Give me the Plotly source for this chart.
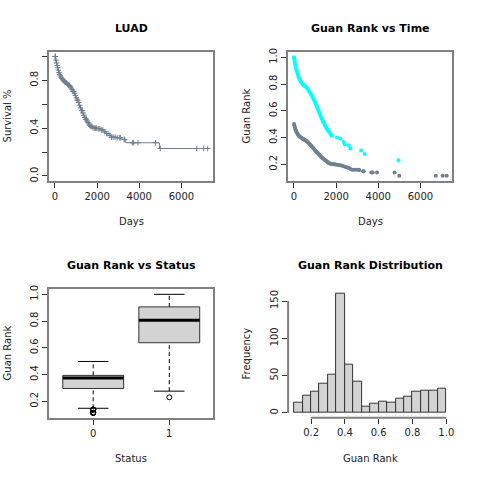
import numpy as np
import plotly.graph_objects as go

# ---------------- data ----------------
# Kaplan-Meier step curve (days, survival)
km_time = [0, 30, 60, 90, 120, 150, 180, 210, 240, 270, 300, 340, 380, 420, 460, 500,
           550, 600, 650, 700, 750, 800, 850, 900, 950, 1000, 1050, 1100, 1150, 1200,
           1250, 1300, 1350, 1400, 1450, 1500, 1550, 1600, 1650, 1700, 1780, 1850, 2040,
           2200, 2360, 2410, 2600, 2680, 2900, 3184, 3360, 4960, 7300]
km_surv = [1.0, 0.97, 0.945, 0.925, 0.905, 0.885, 0.865, 0.85, 0.838, 0.826, 0.815, 0.805,
           0.798, 0.79, 0.785, 0.78, 0.773, 0.766, 0.758, 0.748, 0.736, 0.722, 0.708, 0.692,
           0.674, 0.655, 0.635, 0.615, 0.592, 0.57, 0.548, 0.527, 0.508, 0.49, 0.475, 0.46,
           0.447, 0.435, 0.424, 0.415, 0.405, 0.40, 0.395, 0.385, 0.37, 0.355, 0.34, 0.325,
           0.32, 0.305, 0.278, 0.23, 0.23]

# censored patients (days, Guan rank)
cens_time = [0, 20, 45, 70, 100, 130, 160, 190, 220, 250, 290, 330, 370, 410, 450, 490,
             530, 570, 610, 650, 690, 730, 770, 810, 850, 890, 930, 970, 1010, 1050, 1090,
             1130, 1170, 1210, 1250, 1290, 1330, 1370, 1410, 1450, 1490, 1530, 1570, 1610,
             1650, 1700, 1750, 1800, 1860, 1920, 1980, 2050, 2130, 2200, 2280, 2360, 2450,
             2520, 2600, 2680, 2760, 2850, 2950, 3050, 3105, 3280, 3310, 3673, 3735, 3940,
             4775, 5000, 6729, 7060, 7249]
cens_rank = [0.502, 0.49, 0.475, 0.462, 0.45, 0.44, 0.43, 0.422, 0.415, 0.41, 0.405, 0.40,
             0.396, 0.392, 0.388, 0.385, 0.38, 0.376, 0.372, 0.366, 0.36, 0.354, 0.347, 0.34,
             0.333, 0.326, 0.318, 0.31, 0.303, 0.296, 0.29, 0.285, 0.278, 0.27, 0.263, 0.256,
             0.25, 0.245, 0.24, 0.235, 0.23, 0.225, 0.22, 0.215, 0.21, 0.206, 0.204, 0.202,
             0.2, 0.2, 0.199, 0.197, 0.195, 0.193, 0.19, 0.185, 0.18, 0.177, 0.172, 0.165,
             0.16, 0.16, 0.16, 0.16, 0.158, 0.148, 0.148, 0.138, 0.138, 0.138, 0.138, 0.114,
             0.114, 0.114, 0.114]

# patients with event (days, Guan rank)
ev_time = [0, 10, 25, 40, 60, 80, 100, 125, 150, 175, 200, 230, 260, 290, 320, 360, 400,
           440, 480, 520, 560, 600, 640, 680, 720, 760, 800, 840, 880, 920, 960, 1000, 1040,
           1080, 1120, 1160, 1200, 1240, 1280, 1320, 1360, 1400, 1440, 1480, 1520, 1560,
           1600, 1640, 1680, 1720, 1760, 1800, 2040, 2200, 2360, 2410, 2600, 2680, 3184,
           3360, 4960]
ev_rank = [1.0, 0.99, 0.975, 0.96, 0.945, 0.93, 0.915, 0.9, 0.89, 0.875, 0.862, 0.85, 0.84,
           0.83, 0.82, 0.81, 0.802, 0.795, 0.79, 0.786, 0.78, 0.772, 0.765, 0.755, 0.745,
           0.735, 0.725, 0.715, 0.703, 0.69, 0.677, 0.664, 0.65, 0.635, 0.62, 0.603, 0.587,
           0.572, 0.556, 0.54, 0.527, 0.515, 0.502, 0.49, 0.478, 0.467, 0.458, 0.45, 0.44,
           0.43, 0.421, 0.414, 0.40, 0.392, 0.367, 0.35, 0.342, 0.318, 0.303, 0.277, 0.23]

# boxplot statistics by status
status_labels = ["0", "1"]
box_lower = [0.148, 0.276]
box_q1 = [0.296, 0.638]
box_median = [0.375, 0.806]
box_q3 = [0.394, 0.906]
box_upper = [0.498, 1.0]
outliers_status0 = [0.138, 0.138, 0.138, 0.138, 0.114, 0.114, 0.114, 0.114]
outliers_status1 = [0.23]

# histogram of Guan rank
hist_edges = [0.10, 0.15, 0.20, 0.25, 0.30, 0.35, 0.40, 0.45, 0.50, 0.55, 0.60, 0.65,
              0.70, 0.75, 0.80, 0.85, 0.90, 0.95, 1.00]
hist_counts = [14, 23, 29, 39, 51, 160, 65, 42, 8, 12, 15, 14, 19, 22, 28, 30, 30, 33]

days_ticks = [0, 2000, 4000, 6000]
surv_ticks = [0.0, 0.2, 0.4, 0.6, 0.8, 1.0]
surv_ticktext = ["0.0", "", "0.4", "", "0.8", ""]
rank_ticks = [0.2, 0.4, 0.6, 0.8, 1.0]
freq_ticks = [0, 50, 100, 150]

# ---------------- styling ----------------
SLATE = "#708090"
CYAN = "#00FFFF"
FONT = "DejaVu Sans"
FRAME = "#808080"

fig = go.Figure()

# Panel 1: KM curve
fig.add_trace(go.Scatter(x=km_time, y=km_surv, mode="lines", line=dict(color=SLATE, width=1, shape="hv"),
                         xaxis="x", yaxis="y", showlegend=False))
kt = np.array(km_time)
ks = np.array(km_surv)
idx = np.searchsorted(kt, np.array(cens_time), side="right") - 1
fig.add_trace(go.Scatter(x=cens_time, y=ks[idx], mode="markers",
                         marker=dict(symbol="cross-thin", size=4, line=dict(width=1, color=SLATE), color=SLATE),
                         xaxis="x", yaxis="y", showlegend=False))

# Panel 2: Guan rank vs time
fig.add_trace(go.Scatter(x=ev_time, y=ev_rank, mode="markers", marker=dict(color=CYAN, size=4),
                         xaxis="x2", yaxis="y2", showlegend=False))
fig.add_trace(go.Scatter(x=cens_time, y=cens_rank, mode="markers", marker=dict(color=SLATE, size=4),
                         xaxis="x2", yaxis="y2", showlegend=False))

# Panel 3: boxplot
HW = 0.4
CAP = 0.2
outs = [outliers_status0, outliers_status1]
for i in range(len(status_labels)):
    p = i + 1
    # whiskers (dashed)
    fig.add_trace(go.Scatter(x=[p, p], y=[box_q3[i], box_upper[i]], mode="lines",
                             line=dict(color="black", width=1, dash="4px,3px"), xaxis="x3", yaxis="y3", showlegend=False))
    fig.add_trace(go.Scatter(x=[p, p], y=[box_lower[i], box_q1[i]], mode="lines",
                             line=dict(color="black", width=1, dash="4px,3px"), xaxis="x3", yaxis="y3", showlegend=False))
    # caps
    for v in (box_lower[i], box_upper[i]):
        fig.add_trace(go.Scatter(x=[p - CAP, p + CAP], y=[v, v], mode="lines",
                                 line=dict(color="black", width=1), xaxis="x3", yaxis="y3", showlegend=False))
    # box
    fig.add_trace(go.Scatter(x=[p - HW, p + HW, p + HW, p - HW, p - HW],
                             y=[box_q1[i], box_q1[i], box_q3[i], box_q3[i], box_q1[i]],
                             mode="lines", fill="toself", fillcolor="#D3D3D3",
                             line=dict(color="#333333", width=1), xaxis="x3", yaxis="y3", showlegend=False))
    # median
    fig.add_trace(go.Scatter(x=[p - HW, p + HW], y=[box_median[i], box_median[i]], mode="lines",
                             line=dict(color="black", width=3), xaxis="x3", yaxis="y3", showlegend=False))
    # outliers
    fig.add_trace(go.Scatter(x=[p] * len(outs[i]), y=outs[i], mode="markers",
                             marker=dict(symbol="circle-open", size=5, color="black", line=dict(width=1)),
                             xaxis="x3", yaxis="y3", showlegend=False))

# Panel 4: histogram
edges = np.array(hist_edges)
centers = (edges[:-1] + edges[1:]) / 2
widths = edges[1:] - edges[:-1]
fig.add_trace(go.Bar(x=centers, y=hist_counts, width=widths, marker=dict(color="#D3D3D3",
                     line=dict(color="#333333", width=1)), xaxis="x4", yaxis="y4", showlegend=False))

# ---------------- layout ----------------
W = H = 480
def px_x(a, b):
    return [a / W, b / W]
def px_y(top, bot):
    return [1 - bot / H, 1 - top / H]

dx_left = px_x(49.3, 214.3)
dx_right = px_x(289.3, 454.3)
dy_top = px_y(48.3, 179)
dy_bot = px_y(288.3, 419)

tickfont = dict(family=FONT, size=10, color="#222222")
common = dict(ticks="outside", ticklen=5, tickcolor="#333333", tickwidth=1, showgrid=False,
              zeroline=False, tickfont=tickfont)
framed = dict(showline=True, linecolor=FRAME, linewidth=2, mirror=True)

fig.update_layout(
    width=W, height=H, margin=dict(l=0, r=0, t=0, b=0),
    paper_bgcolor="white", plot_bgcolor="white",
    font=dict(family=FONT, size=10, color="#222222"),
    bargap=0,
    xaxis=dict(domain=dx_left, anchor="y", range=[-280, 7520], tickvals=days_ticks, **common, **framed),
    yaxis=dict(domain=dy_top, anchor="x", range=[-0.04, 1.04], tickvals=surv_ticks, ticktext=surv_ticktext,
               tickangle=-90, **common, **framed),
    xaxis2=dict(domain=dx_right, anchor="y2", range=[-280, 7520], tickvals=days_ticks, **common, **framed),
    yaxis2=dict(domain=dy_top, anchor="x2", range=[0.077, 1.042], tickvals=rank_ticks,
                ticktext=[f"{v:.1f}" for v in rank_ticks], tickangle=-90, **common, **framed),
    xaxis3=dict(domain=dx_left, anchor="y3", range=[0.42, 2.58], tickvals=[1, 2], ticktext=status_labels,
                **common, **framed),
    yaxis3=dict(domain=dy_bot, anchor="x3", range=[0.077, 1.042], tickvals=rank_ticks,
                ticktext=[f"{v:.1f}" for v in rank_ticks], tickangle=-90, **common, **framed),
    xaxis4=dict(domain=dx_right, anchor="y4", range=[0.064, 1.036], tickvals=rank_ticks,
                ticktext=[f"{v:.1f}" for v in rank_ticks], showline=False, **common),
    yaxis4=dict(domain=dy_bot, anchor="x4", range=[-6.5, 166.5], tickvals=freq_ticks,
                tickangle=-90, showline=False, **common),
)

# axis lines spanning tick range for histogram (R style)
fig.add_shape(type="line", xref="x4", yref="y4 domain", x0=rank_ticks[0], x1=rank_ticks[-1], y0=0, y1=0,
              line=dict(color=FRAME, width=2))
fig.add_shape(type="line", xref="x4 domain", yref="y4", x0=0, x1=0, y0=freq_ticks[0], y1=freq_ticks[-1],
              line=dict(color=FRAME, width=2))

# titles
titles = [("LUAD", 131.8, 25), ("Guan Rank vs Time", 371.8, 25),
          ("Guan Rank vs Status", 131.8, 265), ("Guan Rank Distribution", 371.8, 265)]
for t, x, y in titles:
    fig.add_annotation(text=f"<b>{t}</b>", x=x / W, y=1 - y / H, xref="paper", yref="paper",
                       xanchor="center", yanchor="middle",
                       showarrow=False, font=dict(family=FONT, size=11, color="black"))
xlabels = [("Days", 131.8, 220.7), ("Days", 371.8, 220.7), ("Status", 131.8, 460.7), ("Guan Rank", 371.8, 460.7)]
for t, x, y in xlabels:
    fig.add_annotation(text=t, x=x / W, y=1 - y / H, xref="paper", yref="paper", showarrow=False,
                       xanchor="center", yanchor="middle",
                       font=dict(family=FONT, size=10, color="#222222"))
ylabels = [("Survival %", 7.3, 113.6), ("Guan Rank", 247.3, 113.6), ("Guan Rank", 7.3, 353.6),
           ("Frequency", 247.3, 353.6)]
for t, x, y in ylabels:
    fig.add_annotation(text=t, x=x / W, y=1 - y / H, xref="paper", yref="paper", showarrow=False,
                       xanchor="center", yanchor="middle",
                       textangle=-90, font=dict(family=FONT, size=10, color="#222222"))

fig.write_html("out.html")
